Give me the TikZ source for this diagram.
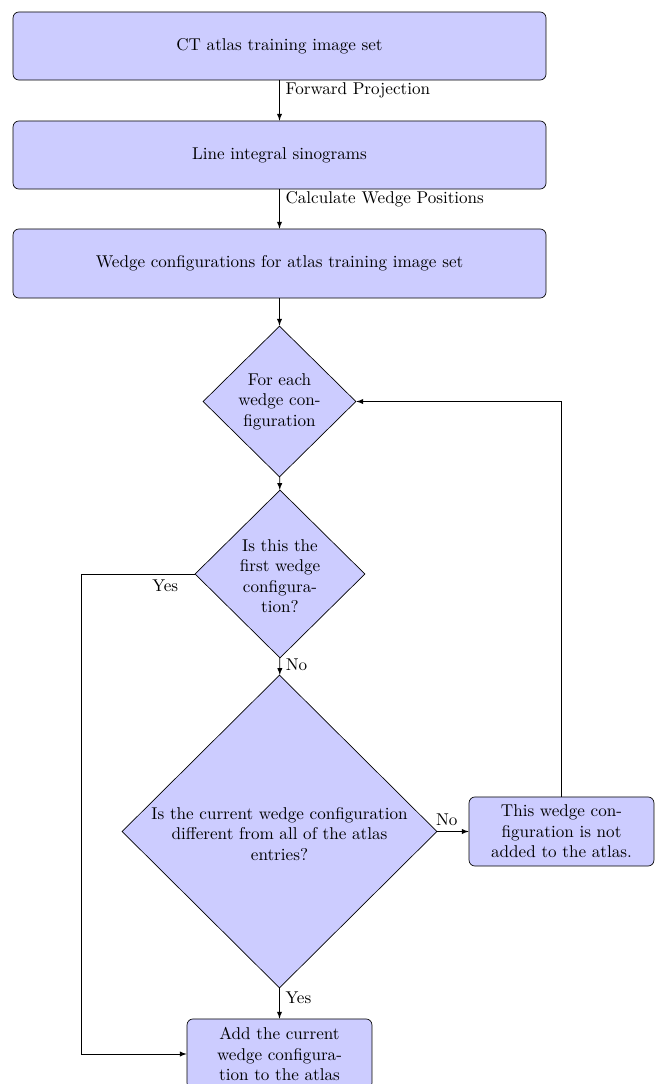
\documentclass[tikz,border=0pt]{standalone}
\usetikzlibrary{shapes.geometric,arrows}
\begin{document}
\begin{tikzpicture}[x=0.585pt,y=-0.585pt,
  box/.style={draw,fill=blue!20,rounded corners=3.5pt,inner sep=2pt,align=center},
  dia/.style={draw,fill=blue!20,diamond,inner sep=0pt},
  txt/.style={align=center,inner sep=0pt},
  conn/.style={-latex},
  lbl/.style={}]
\useasboundingbox (0,0) rectangle (656,1084);
\node[box,minimum width=311.8pt,minimum height=39.8pt] (b1) at (279.5,46) {CT atlas training image set};
\node[box,minimum width=311.8pt,minimum height=39.8pt] (b2) at (279.5,155) {Line integral sinograms};
\node[box,minimum width=311.8pt,minimum height=40.4pt] (b3) at (279.5,263.5) {Wedge configurations for atlas training image set};
\node[dia,minimum width=89.5pt,minimum height=88.3pt] (d1) at (279.5,401.5) {};
\node[txt] (d1t) at (279.5,401.5) {For each\\wedge con-\\figuration};
\node[dia,minimum width=99.5pt,minimum height=98.3pt] (d2) at (280,574) {};
\node[txt] (d2t) at (280,576) {Is this the\\first wedge\\configura-\\tion?};
\node[dia,minimum width=184.3pt,minimum height=183.1pt] (d3) at (279.5,831.5) {};
\node[txt] (d3t) at (279.5,834) {Is the current wedge configuration\\different from all of the atlas\\entries?};
\node[box,minimum width=108.2pt,minimum height=40.4pt] (rb) at (561.5,831.5) {This wedge con-\\figuration is not\\added to the atlas.};
\node[box,minimum width=108.2pt,minimum height=41pt] (b5) at (279.5,1054) {Add the current\\wedge configura-\\tion to the atlas};

\draw[conn] (b1) -- node[pos=0.25,right,lbl]{Forward Projection} (b2);
\draw[conn] (b2) -- node[pos=0.25,right,lbl]{Calculate Wedge Positions} (b3);
\draw[conn] (b3) -- (d1);
\draw[conn] (d1) -- (d2);
\draw[conn] (d2) -- node[pos=0.4,right,lbl]{No} (d3);
\draw[conn] (d3) -- node[pos=0.3,above,lbl]{No} (rb);
\draw[conn] (d3) -- node[pos=0.3,right,lbl]{Yes} (b5);
\draw[conn] (rb.north) |- (d1.east);
\draw[conn] (d2.west) -- node[pos=0.26,below,lbl]{Yes} ++(-113,0) |- (b5.west);
\end{tikzpicture}
\end{document}
